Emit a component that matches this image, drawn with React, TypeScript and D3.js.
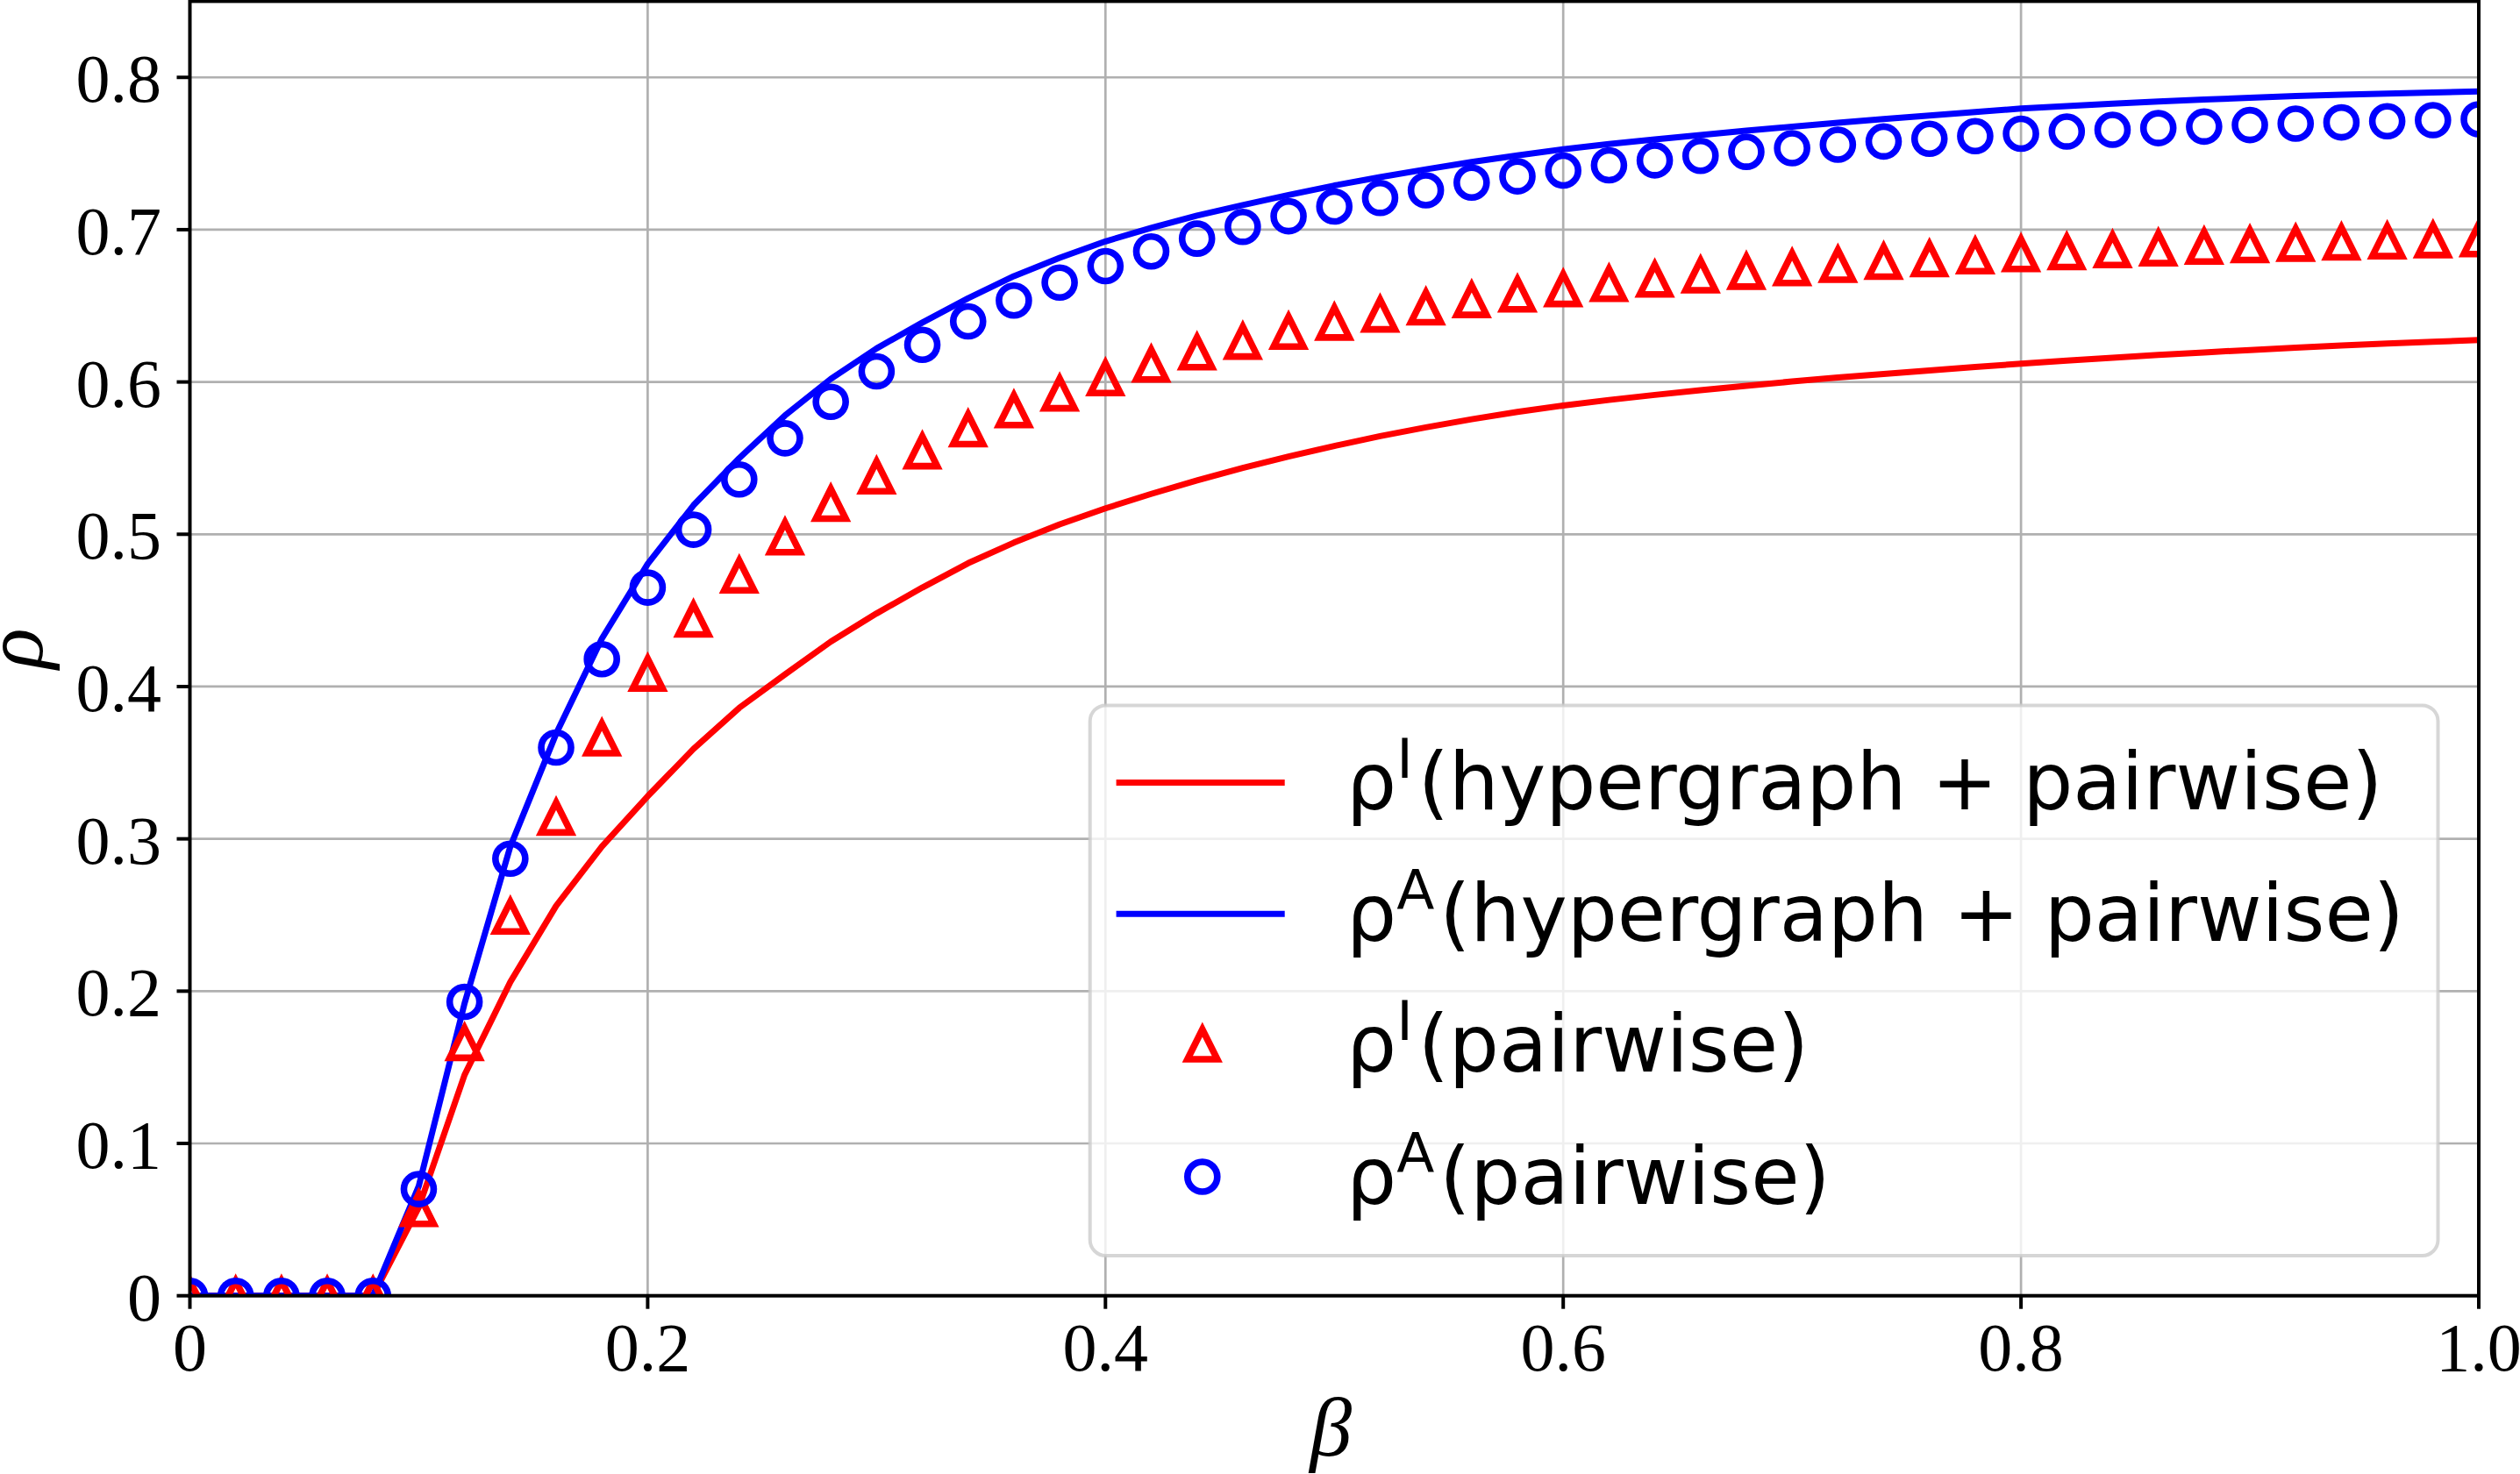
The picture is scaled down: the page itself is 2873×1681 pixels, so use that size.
import React from 'react';
import * as d3 from 'd3';

// ---------- data ----------
const BETA = [
  0, 0.02, 0.04, 0.06, 0.08, 0.1, 0.12, 0.14, 0.16, 0.18,
  0.2, 0.22, 0.24, 0.26, 0.28, 0.3, 0.32, 0.34, 0.36, 0.38,
  0.4, 0.42, 0.44, 0.46, 0.48, 0.5, 0.52, 0.54, 0.56, 0.58,
  0.6, 0.62, 0.64, 0.66, 0.68, 0.7, 0.72, 0.74, 0.76, 0.78,
  0.8, 0.82, 0.84, 0.86, 0.88, 0.9, 0.92, 0.94, 0.96, 0.98, 1.0,
];

// rho^I (hypergraph + pairwise) - red solid line
const RHO_I_HYPER = [
  0, 0, 0, 0, 0, 0.058, 0.145, 0.206, 0.256, 0.295,
  0.328, 0.359, 0.386, 0.408, 0.4295, 0.448, 0.465, 0.481, 0.4945, 0.5065,
  0.517, 0.5265, 0.5353, 0.5435, 0.551, 0.558, 0.5644, 0.5702, 0.5755, 0.5803,
  0.5845, 0.5882, 0.5915, 0.5946, 0.5975, 0.6003, 0.6029, 0.6053, 0.6076, 0.6098,
  0.612, 0.614, 0.6159, 0.6177, 0.6194, 0.621, 0.6225, 0.6239, 0.6252, 0.6264, 0.6275,
];

// rho^A (hypergraph + pairwise) - blue solid line
const RHO_A_HYPER = [
  0, 0, 0, 0, 0, 0.072, 0.192, 0.295, 0.369, 0.4315,
  0.4805, 0.519, 0.55, 0.578, 0.602, 0.622, 0.639, 0.655, 0.6695, 0.6815,
  0.6923, 0.7012, 0.7092, 0.7162, 0.7228, 0.729, 0.7345, 0.7396, 0.7444, 0.7488,
  0.7528, 0.7562, 0.7593, 0.7622, 0.765, 0.7676, 0.7702, 0.7727, 0.775, 0.7773,
  0.7795, 0.7812, 0.7827, 0.7841, 0.7854, 0.7866, 0.7877, 0.7886, 0.7894, 0.7901, 0.7908,
];

// rho^I (pairwise) - red triangles
const RHO_I_PAIR = [
  0, 0, 0, 0, 0, 0.057, 0.166, 0.249, 0.314, 0.366,
  0.4085, 0.444, 0.473, 0.498, 0.52, 0.538, 0.5545, 0.569, 0.5815, 0.5925,
  0.6025, 0.6114, 0.6195, 0.6265, 0.633, 0.639, 0.6443, 0.649, 0.6538, 0.6575,
  0.661, 0.6644, 0.6673, 0.67, 0.6724, 0.6748, 0.6769, 0.6789, 0.6807, 0.6825,
  0.684, 0.6853, 0.6866, 0.6878, 0.6889, 0.6899, 0.6908, 0.6916, 0.6924, 0.6931, 0.6938,
];

// rho^A (pairwise) - blue circles
const RHO_A_PAIR = [
  0, 0, 0, 0, 0, 0.07, 0.193, 0.287, 0.36, 0.418,
  0.465, 0.503, 0.536, 0.563, 0.587, 0.607, 0.6244, 0.6398, 0.6535, 0.6653,
  0.6761, 0.6857, 0.6941, 0.7018, 0.7088, 0.7152, 0.7208, 0.7259, 0.7309, 0.735,
  0.7388, 0.7423, 0.7455, 0.7485, 0.7511, 0.7535, 0.7558, 0.7579, 0.7597, 0.7614,
  0.763, 0.7644, 0.7656, 0.7667, 0.7677, 0.7687, 0.7696, 0.7704, 0.7712, 0.7719, 0.7725,
];

const X_TICKS = [0, 0.2, 0.4, 0.6, 0.8, 1.0];
const X_TICK_LABELS = ['0', '0.2', '0.4', '0.6', '0.8', '1.0'];
const Y_TICKS = [0, 0.1, 0.2, 0.3, 0.4, 0.5, 0.6, 0.7, 0.8];
const Y_TICK_LABELS = ['0', '0.1', '0.2', '0.3', '0.4', '0.5', '0.6', '0.7', '0.8'];

const LEGEND_SUP = ['I', 'A', 'I', 'A'];
const LEGEND_REST = [
  '(hypergraph + pairwise)',
  '(hypergraph + pairwise)',
  '(pairwise)',
  '(pairwise)',
];

// ---------- layout / style ----------
const W = 2873;
const H = 1681;
const PLOT = { left: 216.5, right: 2826, top: 1.4, bottom: 1477.7 };
const RED = '#ff0000';
const BLUE = '#0000ff';
const SERIF = "'Liberation Serif', 'Times New Roman', serif";
const SANS = "'DejaVu Sans', sans-serif";
const MS = 17; // marker half size
const MARKER_W = 7.6;
const LINE_W = 7;
const LEG_FONT = 90;

const triPath = (cx: number, cy: number) =>
  `M${cx},${cy - MS}L${cx - MS},${cy + MS}L${cx + MS},${cy + MS}Z`;

export default function App() {
  const x = d3.scaleLinear().domain([0, 1]).range([PLOT.left, PLOT.right]);
  const y = d3.scaleLinear().domain([0, 0.85]).range([PLOT.bottom, PLOT.top]);

  const lineGen = d3
    .line<number>()
    .x((_, i) => x(BETA[i]))
    .y((d) => y(d));

  const legend = {
    left: 1242.7,
    top: 804.4,
    right: 2779.5,
    bottom: 1432,
    rows: [892.4, 1042.2, 1191, 1342],
    handleX0: 1272.6,
    handleX1: 1464.7,
    markerX: 1370.8,
    textX: 1535,
  };

  return (
    <svg
      width={W}
      height={H}
      viewBox={`0 0 ${W} ${H}`}
      style={{ position: 'absolute', left: 0, top: 0, background: '#ffffff' }}
    >
      <defs>
        <clipPath id="plotClip">
          <rect
            x={PLOT.left}
            y={PLOT.top}
            width={PLOT.right - PLOT.left}
            height={PLOT.bottom - PLOT.top}
          />
        </clipPath>
      </defs>
      <rect x={0} y={0} width={W} height={H} fill="#ffffff" />

      {/* grid */}
      <g stroke="#b0b0b0" strokeWidth={2.7}>
        {X_TICKS.map((t) => (
          <line key={'gx' + t} x1={x(t)} x2={x(t)} y1={PLOT.top} y2={PLOT.bottom} />
        ))}
        {Y_TICKS.map((t) => (
          <line key={'gy' + t} x1={PLOT.left} x2={PLOT.right} y1={y(t)} y2={y(t)} />
        ))}
      </g>

      {/* data */}
      <g clipPath="url(#plotClip)">
        <path d={lineGen(RHO_I_HYPER) || ''} fill="none" stroke={RED} strokeWidth={LINE_W} strokeLinejoin="round" />
        <path d={lineGen(RHO_A_HYPER) || ''} fill="none" stroke={BLUE} strokeWidth={LINE_W} strokeLinejoin="round" />
        <g fill="none" stroke={RED} strokeWidth={MARKER_W} strokeLinejoin="miter">
          {RHO_I_PAIR.map((v, i) => (
            <path key={'t' + i} d={triPath(x(BETA[i]), y(v))} />
          ))}
        </g>
        <g fill="none" stroke={BLUE} strokeWidth={MARKER_W}>
          {RHO_A_PAIR.map((v, i) => (
            <circle key={'c' + i} cx={x(BETA[i])} cy={y(v)} r={MS} />
          ))}
        </g>
      </g>

      {/* spines */}
      <rect
        x={PLOT.left}
        y={PLOT.top}
        width={PLOT.right - PLOT.left}
        height={PLOT.bottom - PLOT.top}
        fill="none"
        stroke="#000"
        strokeWidth={4}
      />

      {/* ticks */}
      <g stroke="#000" strokeWidth={4}>
        {X_TICKS.map((t) => (
          <line key={'tx' + t} x1={x(t)} x2={x(t)} y1={PLOT.bottom} y2={PLOT.bottom + 15} />
        ))}
        {Y_TICKS.map((t) => (
          <line key={'ty' + t} x1={PLOT.left - 15} x2={PLOT.left} y1={y(t)} y2={y(t)} />
        ))}
      </g>

      {/* tick labels */}
      <g fontFamily={SERIF} fontSize={78} fill="#000">
        {X_TICKS.map((t, i) => (
          <text key={'lx' + t} x={x(t)} y={1563} textAnchor="middle">
            {X_TICK_LABELS[i]}
          </text>
        ))}
        {Y_TICKS.map((t, i) => (
          <text key={'ly' + t} x={184} y={y(t) + 28} textAnchor="end">
            {Y_TICK_LABELS[i]}
          </text>
        ))}
      </g>

      {/* axis labels */}
      <text
        x={(PLOT.left + PLOT.right) / 2 - 4}
        y={1660}
        textAnchor="middle"
        fontFamily={SERIF}
        fontStyle="italic"
        fontSize={96}
      >
        β
      </text>
      <text
        transform={`translate(48, ${(PLOT.top + PLOT.bottom) / 2}) rotate(-90)`}
        textAnchor="middle"
        fontFamily={SERIF}
        fontStyle="italic"
        fontSize={96}
      >
        ρ
      </text>

      {/* legend */}
      <g>
        <rect
          x={legend.left}
          y={legend.top}
          width={legend.right - legend.left}
          height={legend.bottom - legend.top}
          rx={18}
          ry={18}
          fill="#ffffff"
          fillOpacity={0.8}
          stroke="#cccccc"
          strokeOpacity={0.8}
          strokeWidth={4}
        />
        <line x1={legend.handleX0} x2={legend.handleX1} y1={legend.rows[0]} y2={legend.rows[0]} stroke={RED} strokeWidth={LINE_W} />
        <line x1={legend.handleX0} x2={legend.handleX1} y1={legend.rows[1]} y2={legend.rows[1]} stroke={BLUE} strokeWidth={LINE_W} />
        <path d={triPath(legend.markerX, legend.rows[2])} fill="none" stroke={RED} strokeWidth={MARKER_W} />
        <circle cx={legend.markerX} cy={legend.rows[3]} r={MS} fill="none" stroke={BLUE} strokeWidth={MARKER_W} />
        {legend.rows.map((ry, i) => (
          <text key={'lg' + i} x={legend.textX} y={ry + 31} fontFamily={SANS} fontSize={LEG_FONT} fill="#000">
            ρ
            <tspan dy={-36} fontSize={LEG_FONT * 0.7}>{LEGEND_SUP[i]}</tspan>
            <tspan dy={36} dx={6} fontSize={LEG_FONT}>{LEGEND_REST[i]}</tspan>
          </text>
        ))}
      </g>
    </svg>
  );
}
